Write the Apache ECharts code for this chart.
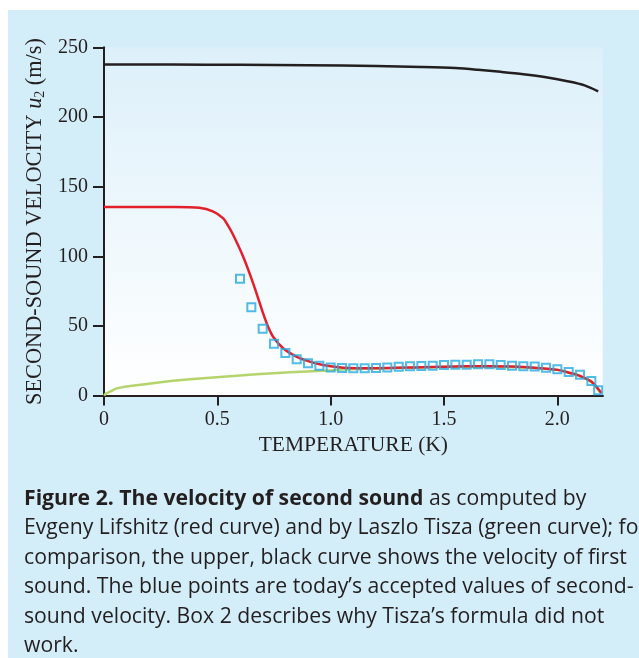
<!DOCTYPE html>
<html><head><meta charset="utf-8">
<script src="https://cdn.jsdelivr.net/npm/echarts@6/dist/echarts.min.js"></script>
<style>html,body{margin:0;padding:0;background:#fff;width:639px;height:658px;overflow:hidden}
#c{position:absolute;left:8px;top:10px;width:631px;height:648px}</style>
</head><body><div id="c"></div>
<script>
// ---- data ----
const tempBlack = [0, 0.3, 0.6, 0.9, 1.2, 1.4, 1.55, 1.65, 1.75, 1.85, 1.95, 2.05, 2.12, 2.18];
const firstSound = [237.8, 237.7, 237.6, 237.3, 236.7, 236.0, 235.2, 234.0, 232.5, 230.8, 228.6, 225.6, 222.8, 218.5];

const tempRed = [0, 0.3, 0.42, 0.48, 0.526, 0.548, 0.57, 0.614, 0.658, 0.702, 0.724, 0.746, 0.79, 0.849, 0.908, 0.967, 1.055, 1.2, 1.4, 1.6, 1.7, 1.8, 1.9, 2.0, 2.055, 2.1, 2.15, 2.194];
const lifshitz = [135.5, 135.4, 134.8, 132.3, 127.3, 121.8, 115.3, 99.7, 80.6, 59, 49.4, 42.2, 33.9, 27.9, 24.3, 21.9, 20.0, 19.6, 20.3, 21.0, 21.1, 20.8, 19.9, 18.4, 16.2, 14.0, 10.0, 1.8];

const tempGreen = [0, 0.01, 0.026, 0.056, 0.115, 0.232, 0.379, 0.526, 0.673, 0.82, 0.967, 1.085, 1.3, 1.5, 1.7, 1.85, 1.95, 2.0, 2.05, 2.1, 2.15, 2.19];
const tisza = [0, 1.5, 2.7, 5.1, 6.8, 9.2, 11.6, 13.5, 15.2, 16.7, 17.8, 18.8, 19.8, 20.4, 20.6, 20.2, 19.3, 18.5, 16.5, 14.0, 9.5, 2.0];

const tempBlue = [0.60,0.65,0.70,0.75,0.80,0.85,0.90,0.95,1.00,1.05,1.10,1.15,1.20,1.25,1.30,1.35,1.40,1.45,1.50,1.55,1.60,1.65,1.70,1.75,1.80,1.85,1.90,1.95,2.00,2.05,2.10,2.15,2.18];
const accepted = [83.9, 63.4, 48.0, 37.2, 30.5, 26.0, 23.1, 21.4, 20.2, 19.8, 19.5, 19.5, 19.8, 20.2, 20.7, 21.0, 21.2, 21.4, 21.9, 22.1, 22.1, 22.4, 22.4, 21.9, 21.4, 21.1, 20.8, 20.0, 18.8, 16.8, 14.9, 10.4, 3.8];

const xTicks = [0, 0.5, 1.0, 1.5, 2.0];
const xTickLabels = ['0', '0.5', '1.0', '1.5', '2.0'];

const captionLines = [
  '{b|Figure 2. The velocity of second sound} as computed by',
  'Evgeny Lifshitz (red curve) and by Laszlo Tisza (green curve); for',
  'comparison, the upper, black curve shows the velocity of first',
  'sound. The blue points are today\u2019s accepted values of second-',
  'sound velocity. Box 2 describes why Tisza\u2019s formula did not',
  'work.'
];

// ---- chart ----
const zip = (xs, ys) => xs.map((x, i) => [x, ys[i]]);
const INK = '#231f20';
const SERIF = '"Liberation Serif", "DejaVu Serif", serif';
const SANS = '"Open Sans", "Noto Sans", sans-serif';
const CAP = 21.2;

const chart = echarts.init(document.getElementById('c'), null, {renderer: 'canvas'});

const axisCommon = {
  axisLine: {show: true, lineStyle: {color: INK, width: 2}},
  splitLine: {show: false}
};

const option = {
  backgroundColor: '#d4eef9',
  animation: false,
  grid: {
    left: 96, top: 37.5, width: 498.7, height: 348,
    show: true, borderWidth: 0,
    backgroundColor: {type: 'linear', x: 0, y: 0, x2: 0, y2: 1,
      colorStops: [{offset: 0, color: '#ddf0fa'}, {offset: 1, color: '#ffffff'}]}
  },
  xAxis: [{
    type: 'value', min: 0, max: 2.2, position: 'bottom',
    ...axisCommon,
    axisTick: {show: true, length: 10, inside: false, lineStyle: {color: INK, width: 2}, customValues: xTicks},
    axisLabel: {show: true, margin: 14, color: INK, fontFamily: SERIF, fontSize: 20,
      customValues: xTicks,
      formatter: v => { const i = xTicks.findIndex(t => Math.abs(t - v) < 1e-9); return i >= 0 ? xTickLabels[i] : ''; }},
    name: 'TEMPERATURE (K)', nameLocation: 'middle', nameGap: 38,
    nameTextStyle: {color: INK, fontFamily: SERIF, fontSize: 21.5}
  }, {
    type: 'value', min: 0, max: 2.2, position: 'top',
    ...axisCommon, axisTick: {show: false}, axisLabel: {show: false}
  }],
  yAxis: [{
    type: 'value', min: 0, max: 250, interval: 50, position: 'left',
    ...axisCommon,
    axisTick: {show: true, length: 11, lineStyle: {color: INK, width: 2}},
    axisLabel: {show: true, margin: 16, color: INK, fontFamily: SERIF, fontSize: 20},
    name: '{a|SECOND-SOUND VELOCITY }{i|u}{s|2}{a| (m/s)}',
    nameLocation: 'middle', nameRotate: 90, nameGap: 56,
    nameTextStyle: {
      color: INK, fontFamily: SERIF, fontSize: 22.3,
      rich: {
        a: {color: INK, fontFamily: SERIF, fontSize: 22.3, lineHeight: 24, verticalAlign: 'middle'},
        i: {color: INK, fontFamily: SERIF, fontSize: 22.3, fontStyle: 'italic', lineHeight: 24, verticalAlign: 'middle'},
        s: {color: INK, fontFamily: SERIF, fontSize: 14, lineHeight: 24, verticalAlign: 'bottom'}
      }
    }
  }, {
    type: 'value', min: 0, max: 250, position: 'right',
    ...axisCommon, axisTick: {show: false}, axisLabel: {show: false}
  }],
  series: [{
    name: 'First sound', type: 'line', data: zip(tempBlack, firstSound),
    smooth: 0.3, showSymbol: false, symbol: 'none',
    lineStyle: {color: INK, width: 2.5}, z: 2
  }, {
    name: 'Tisza', type: 'line', data: zip(tempGreen, tisza),
    smooth: 0.3, showSymbol: false, symbol: 'none',
    lineStyle: {color: '#b5d56c', width: 2.5}, z: 3
  }, {
    name: 'Lifshitz', type: 'line', data: zip(tempRed, lifshitz),
    smooth: 0.3, showSymbol: false, symbol: 'none',
    lineStyle: {color: '#e3202a', width: 2.5}, z: 4
  }, {
    name: 'Accepted', type: 'scatter', data: zip(tempBlue, accepted),
    symbol: 'rect', symbolSize: 8,
    itemStyle: {color: 'rgba(255,255,255,0)', borderColor: '#27aae1', borderWidth: 2},
    z: 5
  }],
  graphic: captionLines.map((t, i) => ({
    type: 'text', silent: true,
    x: 16, y: 489 + i * 29.4,
    style: {
      text: t, x: 0, y: 0, fill: INK,
      fontFamily: SANS, fontSize: CAP,
      verticalAlign: 'middle', align: 'left',
      rich: {b: {fontWeight: 'bold', fontFamily: SANS, fontSize: CAP, fill: INK}}
    }
  }))
};
chart.setOption(option);
</script></body></html>
